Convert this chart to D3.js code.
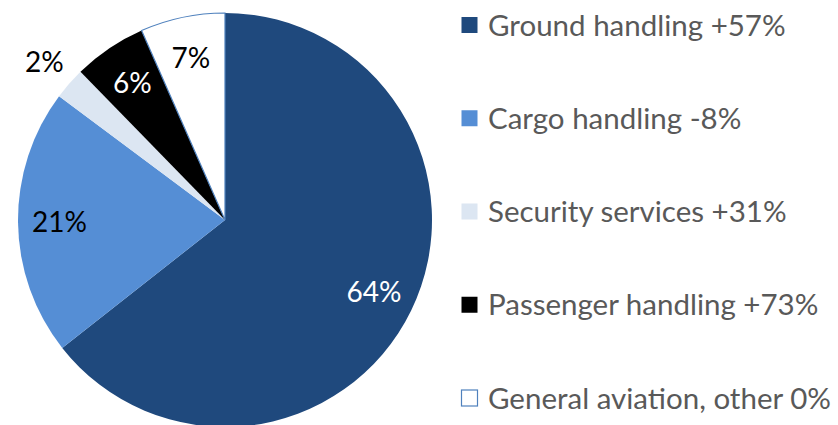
<!DOCTYPE html>
<html>
<head>
<meta charset="utf-8">
<script src="https://cdn.jsdelivr.net/npm/d3@7"></script>
<style>
  html, body { margin: 0; padding: 0; background: #ffffff; }
  svg { display: block; }
  text { font-family: Lato, "Open Sans", sans-serif; }
</style>
</head>
<body>
<svg id="chart" width="838" height="425"></svg>
<script>
// ---- data ----
const categories = ["Ground handling", "Cargo handling", "Security services", "Passenger handling", "General aviation, other"];
const shares = [64.4, 20.8, 2.5, 5.7, 6.6];
const shareLabels = ["64%", "21%", "2%", "6%", "7%"];
const growthLabels = ["+57%", "-8%", "+31%", "+73%", "0%"];
const colors = ["#1f497d", "#558ed5", "#dce6f2", "#000000", "#ffffff"];
const labelColors = ["#ffffff", "#000000", "#000000", "#ffffff", "#000000"];

// ---- layout ----
const svg = d3.select("#chart");
const cx = 225, cy = 220, R = 207;

const pie = d3.pie().sort(null).value(d => d.v).startAngle(0).endAngle(2 * Math.PI);
const data = categories.map((c, i) => ({ c, v: shares[i], i }));
const arcs = pie(data);
const arc = d3.arc().innerRadius(0).outerRadius(R);
const labelArcIn = d3.arc().innerRadius(R * 0.8).outerRadius(R * 0.8);
const labelArcOut = d3.arc().innerRadius(R * 1.16).outerRadius(R * 1.16);

const g = svg.append("g").attr("transform", `translate(${cx},${cy})`);

g.selectAll("path.slice")
  .data(arcs)
  .join("path")
  .attr("class", "slice")
  .attr("d", arc)
  .attr("fill", d => colors[d.data.i])
  .attr("stroke", d => d.data.i === 4 ? "#4f81bd" : "none")
  .attr("stroke-width", d => d.data.i === 4 ? 1.2 : 0);

g.selectAll("text.lbl")
  .data(arcs)
  .join("text")
  .attr("class", "lbl")
  .attr("transform", d => {
    const p = (d.data.v < 3 ? labelArcOut : labelArcIn).centroid(d);
    return `translate(${p[0]},${p[1]})`;
  })
  .attr("text-anchor", "middle")
  .attr("dy", "0.36em")
  .attr("font-size", 28)
  .attr("fill", d => labelColors[d.data.i])
  .text(d => shareLabels[d.data.i]);

// ---- legend ----
const legendY = d3.scalePoint().domain(categories).range([25, 398]);
const lg = svg.append("g");
const items = lg.selectAll("g.item")
  .data(categories)
  .join("g")
  .attr("class", "item")
  .attr("transform", d => `translate(461,${legendY(d)})`);

items.append("rect")
  .attr("x", 0.5).attr("y", -8)
  .attr("width", 16).attr("height", 16)
  .attr("fill", (d, i) => colors[i])
  .attr("stroke", (d, i) => i === 4 ? "#4f81bd" : "none")
  .attr("stroke-width", 1.2);

items.append("text")
  .attr("x", 27)
  .attr("dy", "0.36em")
  .attr("font-size", 29.5)
  .attr("fill", "#595959")
  .text((d, i) => `${d} ${growthLabels[i]}`);
</script>
</body>
</html>
